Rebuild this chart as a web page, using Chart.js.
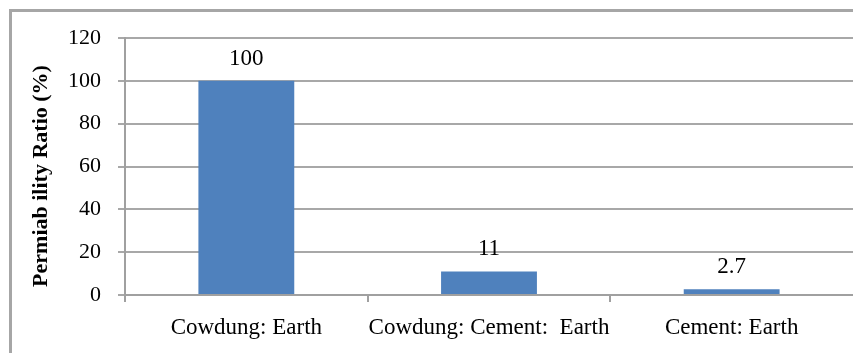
<!DOCTYPE html>
<html>
<head>
<meta charset="utf-8">
<script src="https://cdn.jsdelivr.net/npm/chart.js@4.4.1/dist/chart.umd.min.js"></script>
<style>
  html, body { margin: 0; padding: 0; background: #fff; overflow: hidden; }
  #frame {
    position: absolute; left: 9px; top: 9px; width: 900px; height: 400px;
    border: 3px solid #a6a6a6; box-sizing: border-box;
  }
  #wrap { position: absolute; left: 0; top: 0; width: 853px; height: 353px; }
</style>
</head>
<body>
<div id="frame"></div>
<div id="wrap"><canvas id="c" width="853" height="353"></canvas></div>
<script>
// Mix categories and their permeability ratios
const categories = ['Cowdung: Earth', 'Cowdung: Cement:  Earth', 'Cement: Earth'];
const ratios = [100, 11, 2.7];
const valueLabels = ['100', '11', '2.7'];
const yTicks = [0, 20, 40, 60, 80, 100, 120];
const yTitle = 'Permiab ility Ratio (%)';

const SERIF = '"Liberation Serif", "Times New Roman", serif';

// Value printed above each bar
const barValues = {
  id: 'barValues',
  afterDatasetsDraw(chart) {
    const ctx = chart.ctx;
    const meta = chart.getDatasetMeta(0);
    ctx.save();
    ctx.font = '23px ' + SERIF;
    ctx.fillStyle = '#000';
    ctx.textAlign = 'center';
    ctx.textBaseline = 'alphabetic';
    meta.data.forEach((bar, i) => {
      ctx.fillText(valueLabels[i], bar.x, bar.y - 16);
    });
    ctx.restore();
  }
};

// Rotated y-axis caption
const yCaption = {
  id: 'yCaption',
  afterDraw(chart) {
    const ctx = chart.ctx;
    ctx.save();
    ctx.translate(41, 176);
    ctx.rotate(-Math.PI / 2);
    ctx.font = 'bold 22px ' + SERIF;
    ctx.fillStyle = '#000';
    ctx.textAlign = 'center';
    ctx.textBaseline = 'middle';
    ctx.fillText(yTitle, 0, 0);
    ctx.restore();
  }
};

new Chart(document.getElementById('c'), {
  type: 'bar',
  data: {
    labels: categories,
    datasets: [{
      data: ratios,
      backgroundColor: '#4f81bd',
      borderWidth: 0,
      categoryPercentage: 1.0,
      barPercentage: 0.395
    }]
  },
  options: {
    responsive: false,
    animation: false,
    devicePixelRatio: 1,
    layout: { padding: { top: 38, left: 0, right: 0, bottom: 0 } },
    plugins: { legend: { display: false }, tooltip: { enabled: false } },
    scales: {
      x: {
        grid: {
          offset: true,
          drawOnChartArea: false,
          drawTicks: true,
          tickLength: 7,
          // tick marks only between categories, none at the far right end
          color: (c) => (c.type === 'tick' ? '#a0a0a0' : 'rgba(0,0,0,0)'),
          lineWidth: 2
        },
        border: { color: '#a0a0a0', width: 2 },
        ticks: {
          color: '#000',
          font: { family: SERIF, size: 23 },
          padding: 12,
          maxRotation: 0,
          autoSkip: false
        },
        afterFit(scale) { scale.height = 58; }
      },
      y: {
        min: 0,
        max: 120,
        afterBuildTicks(scale) { scale.ticks = yTicks.map(v => ({ value: v })); },
        grid: {
          color: '#a8a8a8',
          lineWidth: 2,
          drawTicks: true,
          tickLength: 7
        },
        border: { color: '#a0a0a0', width: 2 },
        ticks: {
          color: '#000',
          font: { family: SERIF, size: 22 },
          padding: 17
        },
        afterFit(scale) { scale.width = 125; }
      }
    }
  },
  plugins: [barValues, yCaption]
});
</script>
</body>
</html>
